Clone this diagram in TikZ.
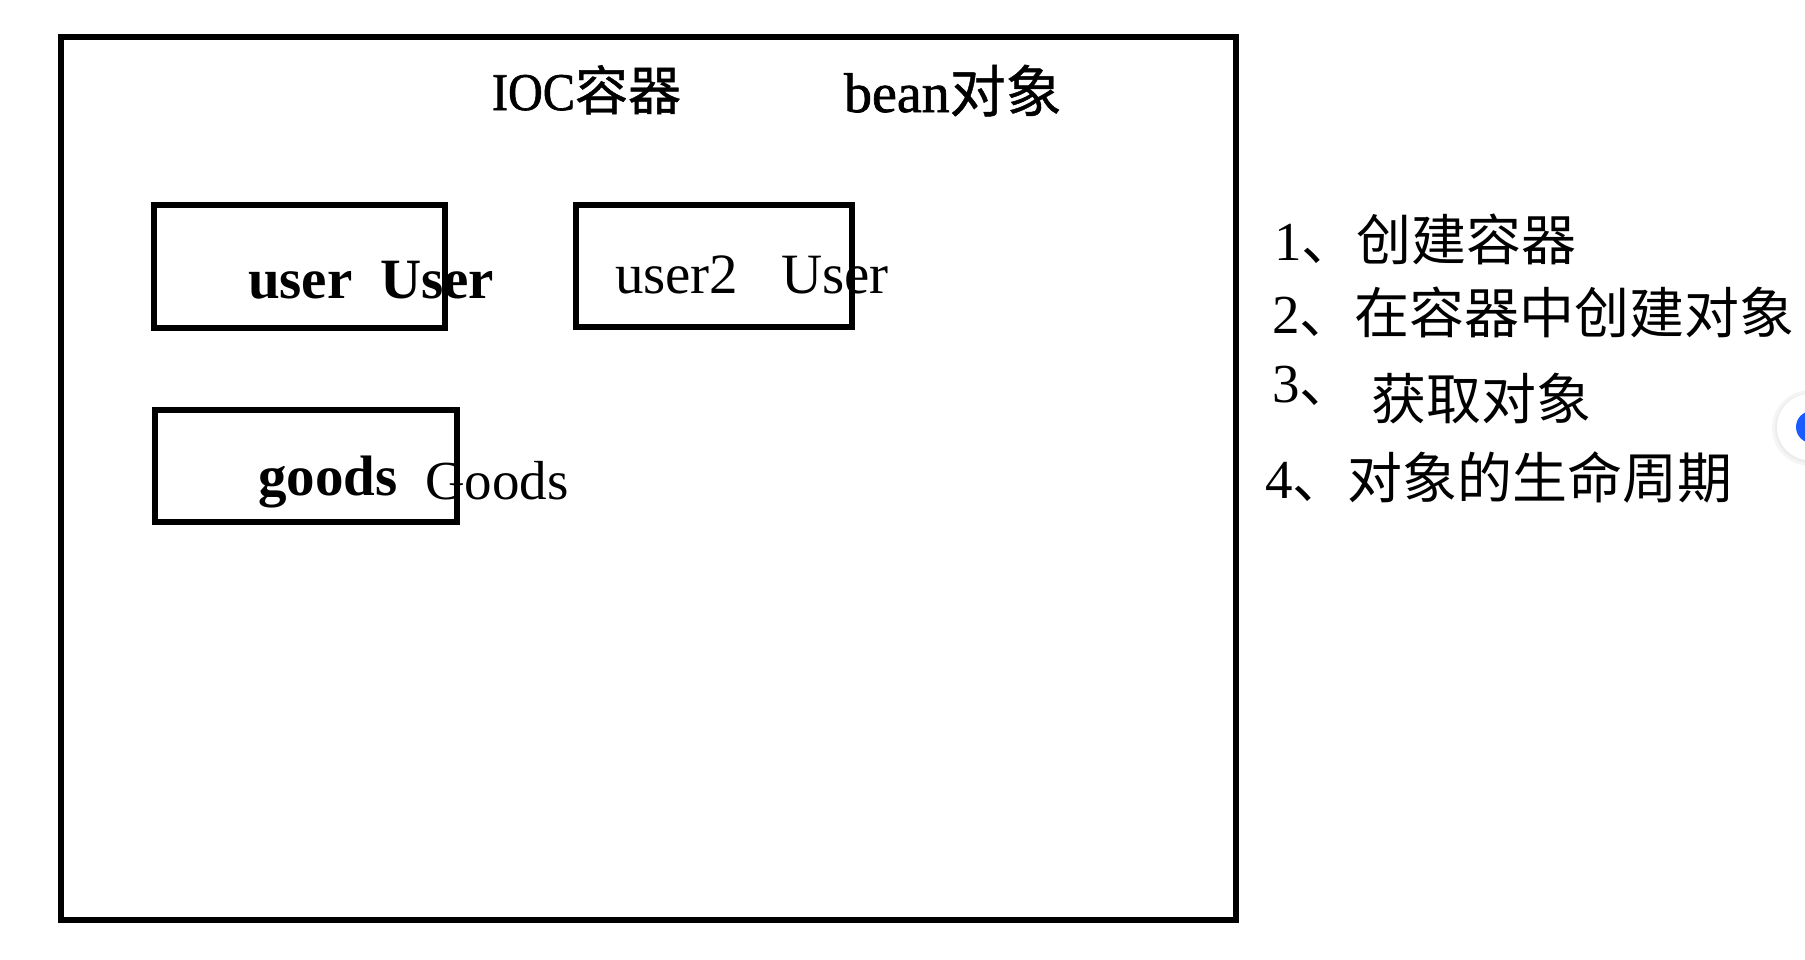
\documentclass[tikz,border=0pt]{standalone}
\usepackage{fontspec}
\usepackage{graphicx}
\setmainfont{Liberation Serif}
\newfontfamily\cjk{Noto Sans CJK SC}
\newfontfamily\titlefont[FakeBold=1.2]{Liberation Serif}
\newfontfamily\cjktitle[FakeBold=0.8]{Noto Sans CJK SC}
\definecolor{btnblue}{RGB}{26,92,255}
\newcommand\fsz[1]{\fontsize{#1}{#1}\selectfont}
\begin{document}
\begin{tikzpicture}[x=1pt,y=-1pt,
  boxline/.style={draw=black,line width=5.2pt,inner sep=0pt,fill=none},
  lbl/.style={anchor=base west,inner sep=0pt,outer sep=0pt,text=black},
  title/.style={lbl,font=\fsz{54}\titlefont},
  boxtext/.style={lbl,font=\fsz{56}},
  listtext/.style={lbl,font=\fsz{55}}]
\useasboundingbox (0,0) rectangle (1805,959);
\clip (0,0) rectangle (1805,959);
\fill[white] (0,0) rectangle (1805,959);

% container
\node[boxline,minimum width=1175pt,minimum height=883pt] (ioc) at (648.5,478.5) {};
\node[title,font=\fsz{53}\titlefont] (ioct) at (492,110) {\resizebox{83pt}{\height}{IOC}{\cjktitle 容器}};
\node[title,font=\fsz{56}\titlefont] (beant) at (844,112) {bean{\cjktitle 对象}};

% bean boxes
\node[boxline,minimum width=291pt,minimum height=123pt] (ubox) at (299.5,266.5) {};
\node[boxline,minimum width=276pt,minimum height=122pt] (u2box) at (714,266) {};
\node[boxline,minimum width=302pt,minimum height=112pt] (gbox) at (306,466) {};

\node[boxtext,font=\fsz{57}\bfseries] (u1) at (248,298) {user};
\node[boxtext,font=\fsz{57}\bfseries] (U1) at (380,298) {User};
\node[boxtext,font=\fsz{57}] (u2) at (615,293) {user2};
\node[boxtext,font=\fsz{57}] (U2) at (781,293) {User};
\node[boxtext,font=\fsz{57}\bfseries] (g1) at (258,495) {goods};
\node[boxtext,font=\fsz{55}] (g2) at (425,499) {Goods};

% list
\node[listtext] (s1) at (1274,260) {1{\cjk 、创建容器}};
\node[listtext] (s2) at (1272,333) {2{\cjk 、在容器中创建对象}};
\node[listtext] (s3n) at (1272,402) {3{\cjk 、}};
\node[listtext] (s3) at (1371,419) {{\cjk 获取对象}};
\node[listtext] (s4) at (1265,498) {4{\cjk 、对象的生命周期}};

% floating button at the right edge
\fill[black!4] (1810,428) circle (38);
\fill[black!7] (1810,428) circle (35);
\node[circle,fill=white,draw=none,minimum size=66pt,inner sep=0pt] (btn) at (1810,427) {};
\node[circle,fill=btnblue,minimum size=32pt,inner sep=0pt] (dot) at (1812,427) {};
\end{tikzpicture}
\end{document}
